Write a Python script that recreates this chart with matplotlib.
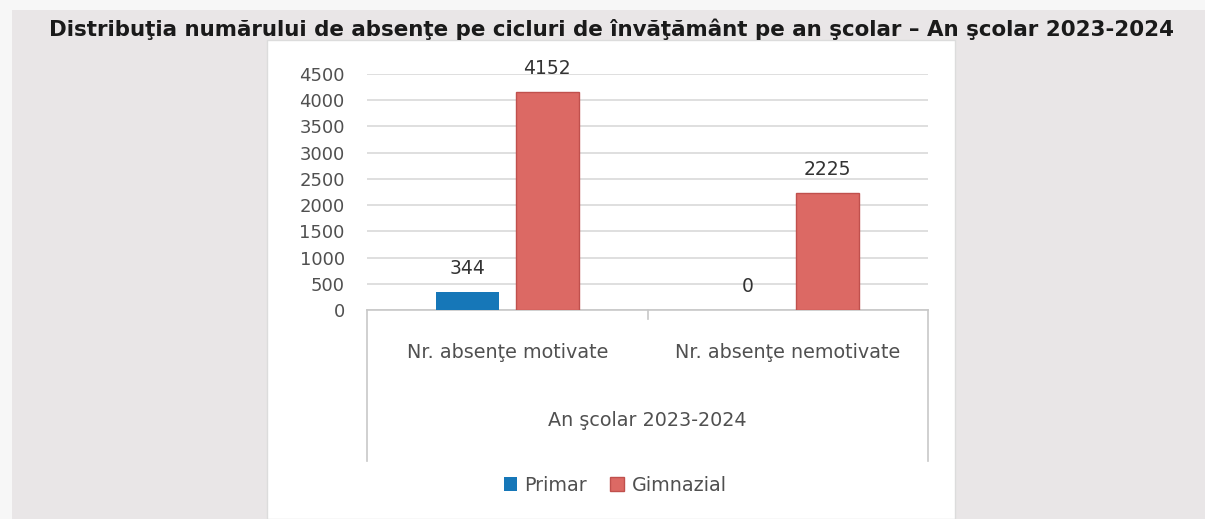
import matplotlib.pyplot as plt
from matplotlib.patches import Rectangle

plt.rcParams['font.family'] = ['DejaVu Sans']

categorii = ['Nr. absenţe motivate', 'Nr. absenţe nemotivate']
primar = [344, 0]
gimnazial = [4152, 2225]
an_scolar = 'An şcolar 2023-2024'
titlu = 'Distribuţia numărului de absenţe pe cicluri de învăţământ pe an şcolar – An şcolar 2023-2024'
y_ticks = list(range(0, 5000, 500))

albastru = '#1677b8'
rosu = '#dc6964'
text_gri = '#505050'

fig = plt.figure(figsize=(12.05, 5.19), dpi=100)
fig.patch.set_facecolor('#e9e6e7')
# fundal alb al graficului (scanat)
fig.patches.append(Rectangle((267/1205, 0), (955-267)/1205, (519-40)/519,
                             transform=fig.transFigure, facecolor='white',
                             edgecolor='#dcdcdc', linewidth=1, zorder=-5))
fig.patches.append(Rectangle((0, 1-10/519), 1, 10/519, transform=fig.transFigure,
                             facecolor='#f7f7f7', edgecolor='none', zorder=-5))
fig.patches.append(Rectangle((0, 0), 12/1205, 1, transform=fig.transFigure,
                             facecolor='#f7f7f7', edgecolor='none', zorder=-5))

fig.text(0.5075, 1-29/519, titlu, ha='center', va='center', fontsize=15.4,
         fontweight='bold', color='#1a1a1a')

ax = fig.add_axes([367/1205, 209/519, 561/1205, 236/519])
ax.set_facecolor('none')
w = 0.225
off = 0.1425
x = list(range(len(categorii)))
b1 = ax.bar([i - off for i in x], primar, w, color=albastru, label='Primar', zorder=3)
b2 = ax.bar([i + off for i in x], gimnazial, w, color=rosu, edgecolor='#c0504d',
            linewidth=1, label='Gimnazial', zorder=3)

for bars in (b1, b2):
    for r in bars:
        ax.annotate(str(int(r.get_height())), (r.get_x() + r.get_width()/2, r.get_height()),
                    xytext=(0, 17), textcoords='offset points', ha='center', va='center',
                    fontsize=13.5, color='#333333')

ax.set_xlim(-0.5, 1.5)
ax.set_ylim(0, 4500)
ax.set_yticks(y_ticks)
ax.tick_params(axis='y', length=0, pad=16, labelsize=13, labelcolor=text_gri)
ax.set_xticks([])
ax.grid(axis='y', color='#d9d9d9', linewidth=1.2, zorder=0)
for s in ['top', 'right', 'left']:
    ax.spines[s].set_visible(False)
ax.spines['bottom'].set_color('#c8c8c8')
ax.spines['bottom'].set_linewidth(1.2)

tr = ax.get_xaxis_transform()
for xv in (-0.5, 1.5):
    ax.plot([xv, xv], [0, -0.64], transform=tr, color='#c8c8c8', linewidth=1.2, clip_on=False)
ax.plot([0.5, 0.5], [0, -0.04], transform=tr, color='#c8c8c8', linewidth=1.2, clip_on=False)
for i, c in enumerate(categorii):
    ax.text(i, -0.178, c, transform=tr, ha='center', va='center', fontsize=13.8, color=text_gri)
ax.text(0.5, -0.47, an_scolar, transform=tr, ha='center', va='center', fontsize=13.8, color=text_gri)

ax.legend(loc='center', bbox_to_anchor=(0.442, -0.742), ncol=2, frameon=False,
          fontsize=13.8, handlelength=0.7, handleheight=0.7, handletextpad=0.4,
          columnspacing=1.2, labelcolor=text_gri)

fig.savefig('out.png', dpi=100, facecolor=fig.get_facecolor())
